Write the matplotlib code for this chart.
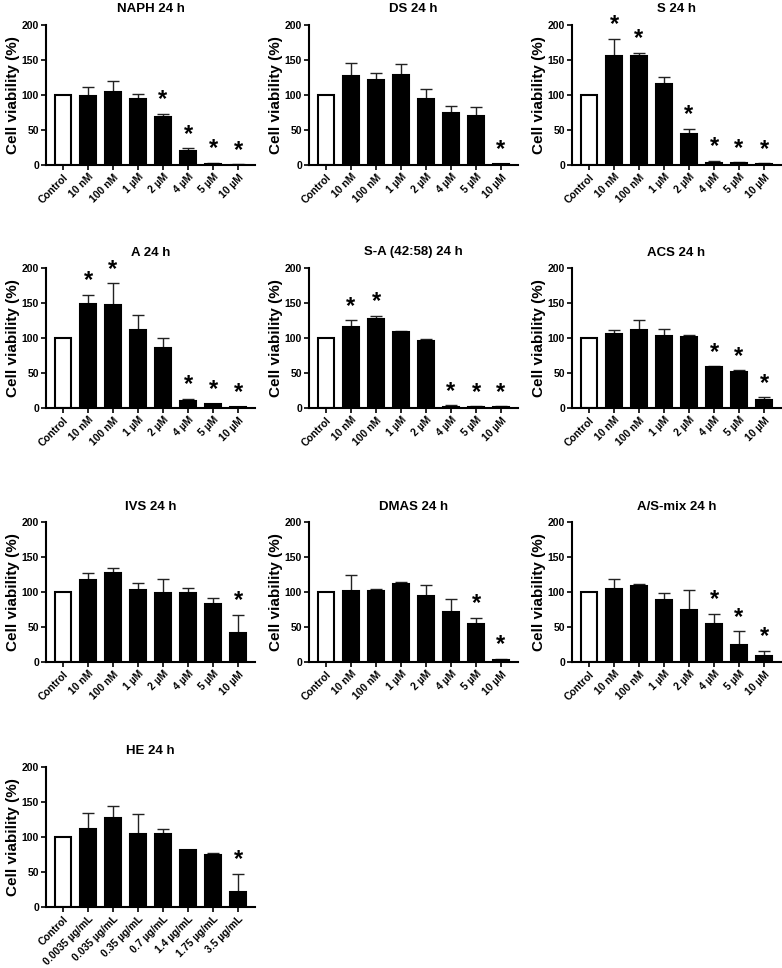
import matplotlib.pyplot as plt

plt.rcParams["font.family"] = ["Liberation Sans", "DejaVu Sans"]
plt.rcParams["font.weight"] = "bold"

conc_labels = ["Control", "10 nM", "100 nM", "1 µM", "2 µM", "4 µM", "5 µM", "10 µM"]
he_labels = ["Control", "0.0035 µg/mL", "0.035 µg/mL", "0.35 µg/mL", "0.7 µg/mL",
             "1.4 µg/mL", "1.75 µg/mL", "3.5 µg/mL"]

titles = ["NAPH 24 h", "DS 24 h", "S 24 h", "A 24 h", "S-A (42:58) 24 h", "ACS 24 h",
          "IVS 24 h", "DMAS 24 h", "A/S-mix 24 h", "HE 24 h"]

naph_mean = [100, 99, 105, 95, 69, 20, 2, 0.5]
naph_err = [0, 13, 15, 6, 4, 4, 1, 0.3]
naph_star = [4, 5, 6, 7]

ds_mean = [100, 127, 121, 128, 95, 75, 70, 1]
ds_err = [0, 18, 10, 16, 13, 9, 13, 0.5]
ds_star = [7]

s_mean = [100, 155, 155, 115, 45, 3, 3, 2]
s_err = [0, 25, 5, 10, 7, 3, 1, 0.5]
s_star = [1, 2, 4, 5, 6, 7]

a_mean = [100, 149, 147, 111, 86, 10, 5, 1]
a_err = [0, 13, 31, 22, 14, 3, 1, 0.5]
a_star = [1, 2, 5, 6, 7]

sa_mean = [100, 115, 127, 109, 95, 2, 2, 2]
sa_err = [0, 10, 5, 1, 4, 2, 0.5, 0.5]
sa_star = [1, 2, 5, 6, 7]

acs_mean = [100, 105, 111, 103, 101, 59, 52, 12]
acs_err = [0, 7, 14, 10, 3, 0.5, 2, 3]
acs_star = [5, 6, 7]

ivs_mean = [100, 117, 127, 103, 99, 99, 83, 42]
ivs_err = [0, 10, 7, 10, 20, 7, 8, 25]
ivs_star = [7]

dmas_mean = [100, 101, 101, 112, 95, 72, 55, 3]
dmas_err = [0, 24, 4, 3, 15, 18, 8, 2]
dmas_star = [6, 7]

mix_mean = [100, 105, 108, 89, 75, 55, 24, 9]
mix_err = [0, 14, 3, 9, 28, 14, 20, 7]
mix_star = [5, 6, 7]

he_mean = [100, 111, 127, 105, 105, 81, 75, 21]
he_err = [0, 23, 18, 28, 7, 1, 2, 26]
he_star = [7]

panels = [
    (naph_mean, naph_err, naph_star, conc_labels),
    (ds_mean, ds_err, ds_star, conc_labels),
    (s_mean, s_err, s_star, conc_labels),
    (a_mean, a_err, a_star, conc_labels),
    (sa_mean, sa_err, sa_star, conc_labels),
    (acs_mean, acs_err, acs_star, conc_labels),
    (ivs_mean, ivs_err, ivs_star, conc_labels),
    (dmas_mean, dmas_err, dmas_star, conc_labels),
    (mix_mean, mix_err, mix_star, conc_labels),
    (he_mean, he_err, he_star, he_labels),
]

W, H = 782, 968
fig = plt.figure(figsize=(W / 100, H / 100), dpi=100)

col_left = [46, 309, 572]
row_top = [25, 268, 522, 767]
ax_w, ax_h = 209, 140

for i, (mean, err, stars, labels) in enumerate(panels):
    r, c = divmod(i, 3)
    ax = fig.add_axes([col_left[c] / W, 1 - (row_top[r] + ax_h) / H, ax_w / W, ax_h / H])
    x = list(range(len(mean)))
    colors = ["white"] + ["black"] * (len(mean) - 1)
    ax.bar(x, mean, width=0.64, color=colors, edgecolor="black", linewidth=1.5, zorder=2)
    ax.errorbar(x, mean, yerr=[[0] * len(err), err], fmt="none", ecolor="#222222",
                elinewidth=1.0, capsize=4.5, capthick=1.0, zorder=1)
    # significance marks sit a little above the error bar
    for k in stars:
        ax.annotate("*", (x[k], mean[k] + err[k]), xytext=(0, 5.5), textcoords="offset points",
                    ha="center", va="baseline", fontsize=17, fontweight="bold")

    ax.set_xlim(-0.68, len(mean) - 1 + 0.68)
    ax.set_ylim(0, 200)
    ax.set_yticks([0, 50, 100, 150, 200])
    ax.set_xticks(x)
    ax.set_xticklabels(labels, rotation=45, ha="right", rotation_mode="anchor")
    for s in ["top", "right"]:
        ax.spines[s].set_visible(False)
    for s in ["left", "bottom"]:
        ax.spines[s].set_linewidth(1.5)
    ax.tick_params(axis="both", length=3.5, width=1.2, labelsize=7.5, pad=1.5)
    ax.set_ylabel("Cell viability (%)", fontsize=11, fontweight="bold", labelpad=1)
    ax.set_title(titles[i], fontsize=9.5, fontweight="bold", pad=9)

plt.savefig("out.png", dpi=100)
print("saved")
